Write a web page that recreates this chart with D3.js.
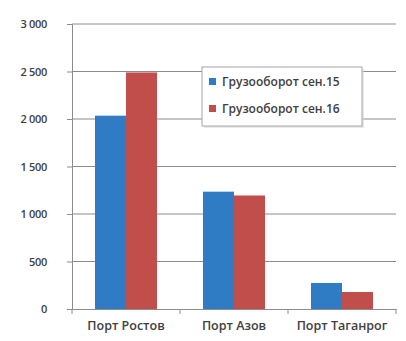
<!DOCTYPE html>
<html><head><meta charset="utf-8">
<script src="https://cdn.jsdelivr.net/npm/d3@7"></script>
<style>body{margin:0;background:#fff}svg{display:block}</style>
</head><body>
<svg id="c" width="406" height="341"></svg>
<script>
const categories = ["Порт Ростов", "Порт Азов", "Порт Таганрог"];
const seriesNames = ["Грузооборот сен.15", "Грузооборот сен.16"];
const sep15 = [2035, 1235, 274];
const sep16 = [2490, 1195, 179];
const yTicks = [0, 500, 1000, 1500, 2000, 2500, 3000];
const colors = ["#2f7bc4", "#c24e4b"];

const svg = d3.select("#c");
const m = {l:72, r:10, t:24, b:32};
const W = 406, H = 341;
const x0 = d3.scaleBand().domain(categories).range([m.l, W - m.r]).paddingInner(0.426).paddingOuter(0.213);
const x1 = d3.scaleBand().domain([0,1]).range([0, x0.bandwidth()]);
const y = d3.scaleLinear().domain([0, 3000]).range([H - m.b, m.t]);
const fmt = v => d3.format(",")(v).replace(/,/g, " ");
const font = "'Open Sans', 'Noto Sans', sans-serif";

// gridlines
svg.append("g").selectAll("line").data(yTicks.slice(1)).join("line")
  .attr("x1", m.l).attr("x2", W - m.r)
  .attr("y1", d => y(d)).attr("y2", d => y(d))
  .attr("stroke", "#8c8c8c").attr("stroke-width", 1);

// y axis
const ya = svg.append("g").attr("transform", `translate(${m.l},0)`)
  .call(d3.axisLeft(y).tickValues(yTicks).tickFormat(fmt).tickSize(5).tickPadding(20));
ya.select(".domain").attr("stroke", "#8c8c8c");
ya.selectAll(".tick line").attr("stroke", "#8c8c8c");
ya.selectAll("text").attr("font-family", font).attr("font-size", 11).attr("font-weight", 600).attr("fill", "#404040").attr("letter-spacing", -0.3);

// bars
const data = categories.map((c,i) => ({c, v:[sep15[i], sep16[i]]}));
const g = svg.append("g").selectAll("g").data(data).join("g")
  .attr("transform", d => `translate(${x0(d.c)},0)`);
g.selectAll("rect").data(d => d.v.map((v,j) => ({v,j}))).join("rect")
  .attr("x", d => x1(d.j)).attr("width", x1.bandwidth())
  .attr("y", d => y(d.v)).attr("height", d => y(0) - y(d.v))
  .attr("fill", d => colors[d.j]);

// x axis
const xa = svg.append("g").attr("transform", `translate(0,${y(0)})`)
  .call(d3.axisBottom(x0).tickSize(0).tickPadding(12));
xa.select(".domain").attr("stroke", "#8c8c8c");
xa.selectAll("text").attr("font-family", font).attr("font-size", 12.5).attr("font-weight", 600).attr("fill", "#404040");
// category boundary ticks
const step = x0.step();
svg.append("g").selectAll("line").data(d3.range(categories.length + 1)).join("line")
  .attr("x1", i => m.l + i*step).attr("x2", i => m.l + i*step)
  .attr("y1", y(0)).attr("y2", y(0) + 5).attr("stroke", "#8c8c8c");

// legend
const lg = svg.append("g").attr("transform", "translate(202,67)");
lg.append("rect").attr("x", 2).attr("y", 2).attr("width", 160).attr("height", 59).attr("fill", "#d9d9d9").attr("opacity", 0.6);
lg.append("rect").attr("width", 160).attr("height", 59).attr("fill", "#fff").attr("stroke", "#a6a6a6");
seriesNames.forEach((s,i) => {
  const row = lg.append("g").attr("transform", `translate(7,${15 + i*27})`);
  row.append("rect").attr("width", 7).attr("height", 7).attr("y", -4).attr("fill", colors[i]);
  row.append("text").attr("x", 13).attr("y", 0).attr("dy", "0.35em")
    .attr("font-family", font).attr("font-size", 12).attr("font-weight", 600).attr("fill", "#404040").text(s);
});
</script>
</body></html>
